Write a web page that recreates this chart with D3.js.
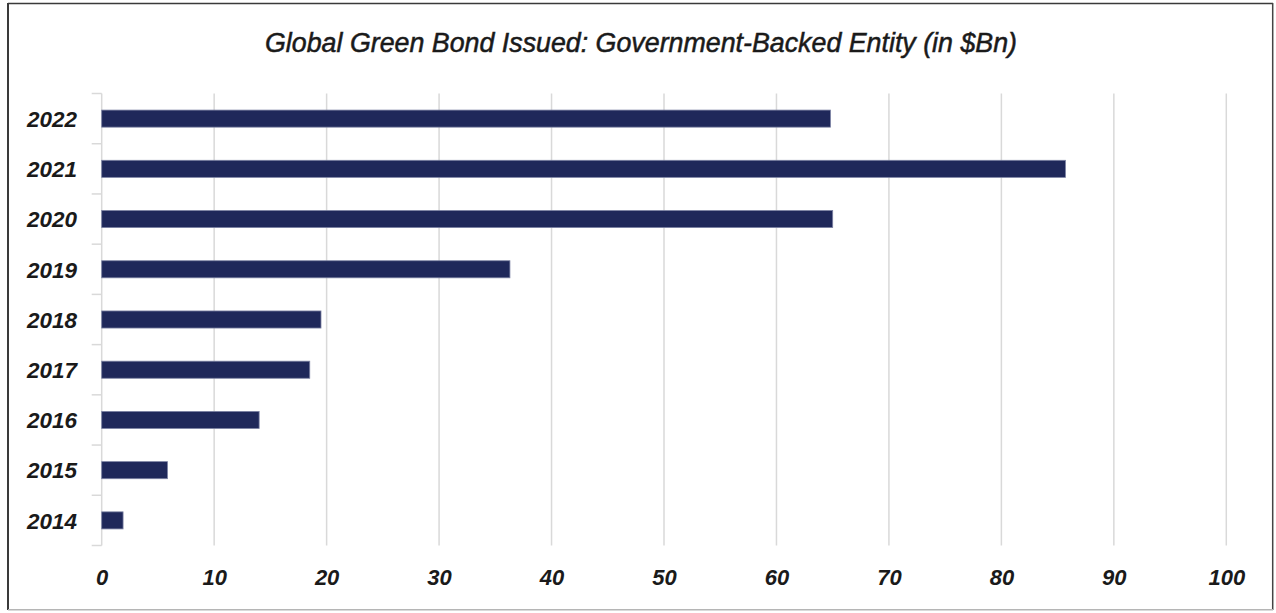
<!DOCTYPE html>
<html>
<head>
<meta charset="utf-8">
<script src="https://cdn.jsdelivr.net/npm/d3@7"></script>
<style>
  html, body { margin: 0; padding: 0; background: #fff; }
  svg { display: block; }
  text { font-family: "Liberation Sans", Arial, sans-serif; font-style: italic; fill: #1a1a1a; }
</style>
</head>
<body>
<svg id="chart" width="1276" height="613"></svg>
<script>
// Issuance by year, top to bottom as shown
const years = ["2022", "2021", "2020", "2019", "2018", "2017", "2016", "2015", "2014"];
const issued = [64.8, 85.7, 65.0, 36.3, 19.5, 18.5, 14.0, 5.85, 1.9];
const xTicks = [0, 10, 20, 30, 40, 50, 60, 70, 80, 90, 100];
const titleText = "Global Green Bond Issued: Government-Backed Entity (in $Bn)";

const svg = d3.select("#chart");
const plot = { left: 101.7, right: 1226.3, top: 93.5, bottom: 545.5 };

// Frame around the chart
const frame = svg.append("g");
frame.append("line").attr("x1", 8).attr("x2", 1273).attr("y1", 3.5).attr("y2", 3.5)
  .attr("stroke", "#3a3a3a").attr("stroke-width", 1.5);
frame.append("line").attr("x1", 8).attr("x2", 8).attr("y1", 3).attr("y2", 610)
  .attr("stroke", "#3a3a3a").attr("stroke-width", 2);
frame.append("line").attr("x1", 1272.7).attr("x2", 1272.7).attr("y1", 3).attr("y2", 610)
  .attr("stroke", "#444").attr("stroke-width", 1.5);
frame.append("line").attr("x1", 8).attr("x2", 1273).attr("y1", 609.7).attr("y2", 609.7)
  .attr("stroke", "#b5b5b5").attr("stroke-width", 1.5);

// Title
svg.append("text")
  .attr("x", 641).attr("y", 52)
  .attr("text-anchor", "middle")
  .attr("font-size", 27)
  .attr("textLength", 752)
  .attr("lengthAdjust", "spacingAndGlyphs")
  .attr("stroke", "#1a1a1a")
  .attr("stroke-width", 0.5)
  .text(titleText);

const x = d3.scaleLinear().domain([0, 100]).range([plot.left, plot.right]);
const y = d3.scaleBand().domain(years).range([plot.top, plot.bottom]).paddingInner(0.66).paddingOuter(0.33);

// Vertical gridlines
svg.append("g")
  .selectAll("line")
  .data(xTicks.slice(1))
  .join("line")
  .attr("x1", d => x(d)).attr("x2", d => x(d))
  .attr("y1", plot.top).attr("y2", plot.bottom)
  .attr("stroke", "#d9d9d9").attr("stroke-width", 1.5);

// Category axis with ticks at band boundaries
const yAxisG = svg.append("g");
yAxisG.append("line")
  .attr("x1", plot.left).attr("x2", plot.left)
  .attr("y1", plot.top).attr("y2", plot.bottom)
  .attr("stroke", "#d9d9d9").attr("stroke-width", 1.5);
const step = (plot.bottom - plot.top) / years.length;
yAxisG.selectAll("line.tick")
  .data(d3.range(years.length + 1))
  .join("line")
  .attr("class", "tick")
  .attr("x1", plot.left - 10).attr("x2", plot.left)
  .attr("y1", i => plot.top + i * step).attr("y2", i => plot.top + i * step)
  .attr("stroke", "#d9d9d9").attr("stroke-width", 1.5);

yAxisG.selectAll("text")
  .data(years)
  .join("text")
  .attr("x", 77).attr("y", d => y(d) + y.bandwidth() / 2)
  .attr("dy", "0.37em")
  .attr("text-anchor", "end")
  .attr("font-size", 22.5)
  .attr("font-weight", "bold")
  .text(d => d);

// Value axis labels
const xAxis = d3.axisBottom(x).tickValues(xTicks).tickSize(0).tickPadding(0);
const xAxisG = svg.append("g")
  .attr("transform", `translate(0, ${plot.bottom})`)
  .call(xAxis);
xAxisG.select(".domain").remove();
xAxisG.selectAll("text")
  .attr("y", 39)
  .attr("dy", 0)
  .attr("font-size", 22)
  .attr("font-weight", "bold")
  .attr("font-family", "Liberation Sans, Arial, sans-serif")
  .attr("font-style", "italic")
  .attr("fill", "#1a1a1a");

// Bars
svg.append("g")
  .selectAll("rect")
  .data(years.map((yr, i) => ({ yr, v: issued[i] })))
  .join("rect")
  .attr("x", x(0))
  .attr("y", d => y(d.yr))
  .attr("width", d => x(d.v) - x(0))
  .attr("height", y.bandwidth())
  .attr("fill", "#1f285a")
  .attr("stroke", "#7c82a3")
  .attr("stroke-width", 0.8);
</script>
</body>
</html>
